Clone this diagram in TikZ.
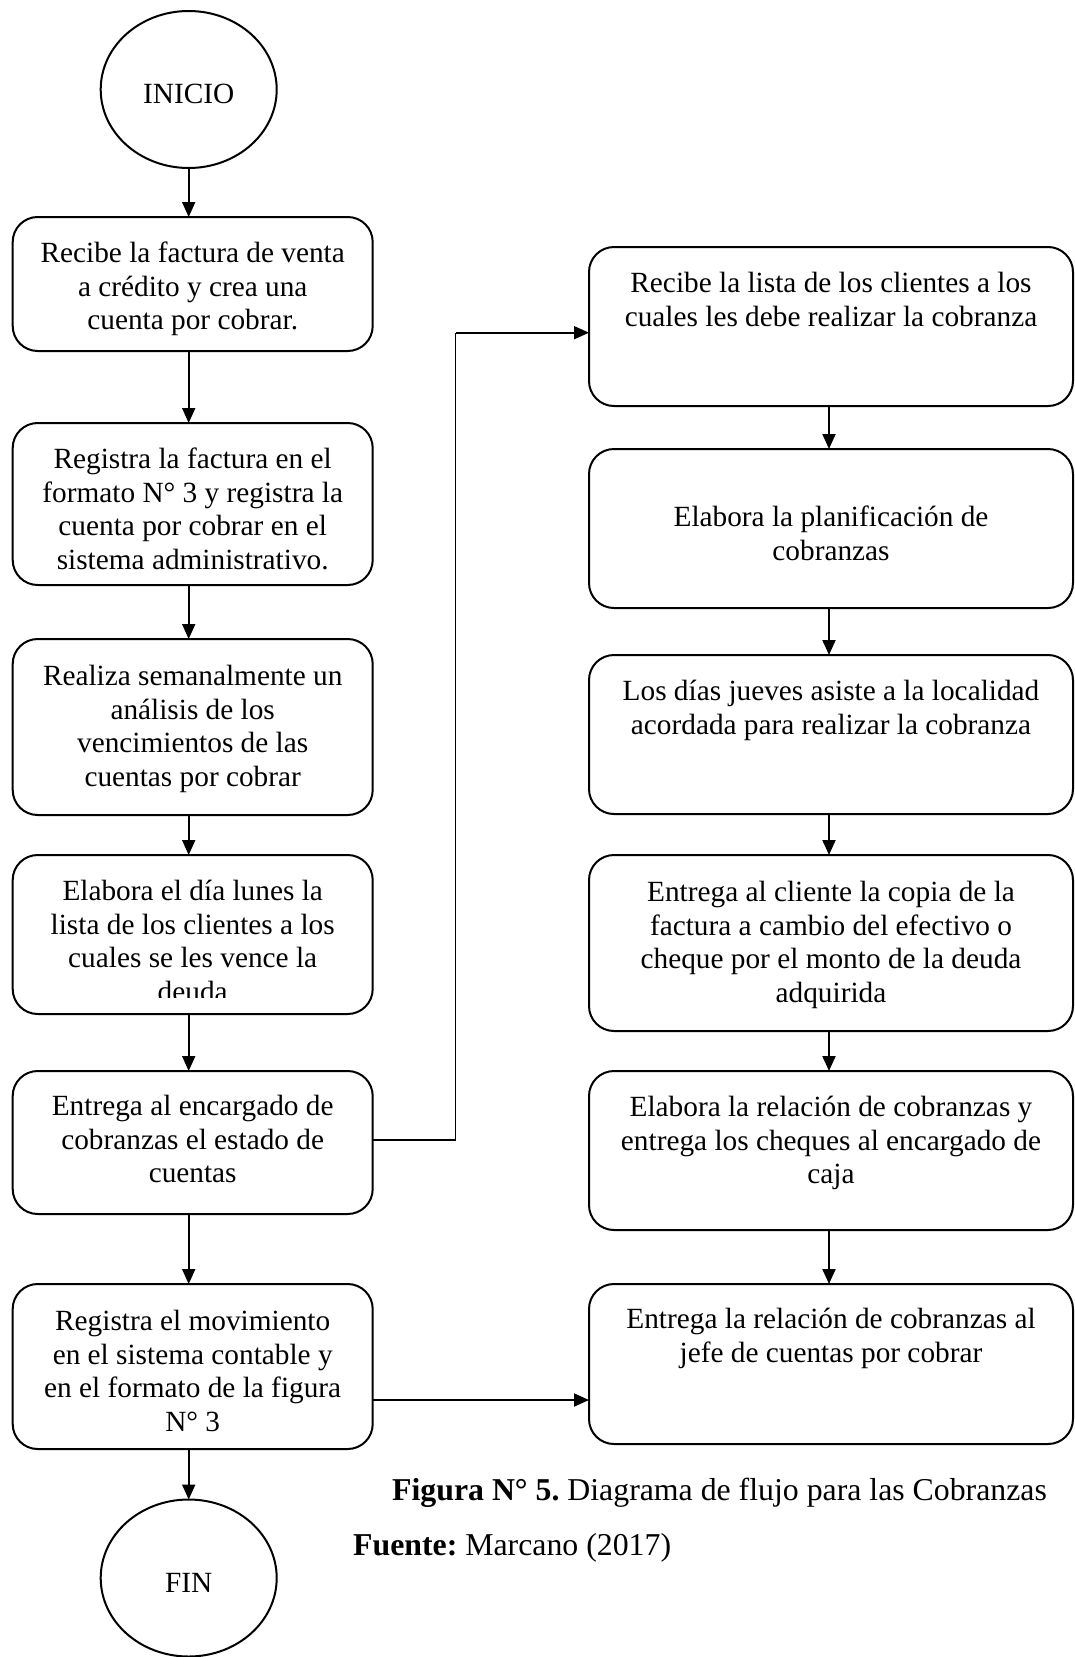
\documentclass[tikz,border=0pt]{standalone}
\usepackage{fontspec}
\setmainfont{Liberation Serif}
\usetikzlibrary{arrows.meta,shapes.geometric}
\frenchspacing
\begin{document}
\begin{tikzpicture}[x=1pt,y=-1pt,
  box/.style={draw, line width=2pt, rounded corners=25pt, inner sep=0pt, outer sep=0pt, anchor=north west},
  term/.style={draw, ellipse, line width=2pt, minimum width=176pt, minimum height=157pt, inner sep=0pt, outer sep=0pt, font=\fontsize{29.3}{33.8}\selectfont, text height=28.4pt, text depth=0pt},
  txt/.style={align=center, inner sep=0pt, anchor=north, font=\fontsize{29.3}{33.8}\selectfont},
  arr/.style={line width=2pt, -{Triangle[length=15pt,width=13pt]}},
  thinconn/.style={line width=1.6pt},
  captxt/.style={anchor=base west, inner sep=0pt, font=\fontsize{31.8}{38}\selectfont\frenchspacing}]
\useasboundingbox (0,0) rectangle (1074,1657);
\coordinate (lc) at (188.7,0);
\coordinate (rc) at (829,0);
% terminals
\node[term] (ini) at (188.7,89.5) {INICIO};
\node[term] (fin) at (188.7,1578) {FIN};
% left column boxes
\node[box, minimum width=360pt, minimum height=134pt] (b1) at (12.7,217) {};
\node[box, minimum width=360pt, minimum height=162pt] (b2) at (12.7,423) {};
\node[box, minimum width=360pt, minimum height=176pt] (b3) at (12.7,639) {};
\node[box, minimum width=360pt, minimum height=159pt] (b4) at (12.7,855) {};
\node[box, minimum width=360pt, minimum height=143pt] (b5) at (12.7,1071) {};
\node[box, minimum width=360pt, minimum height=165pt] (b12) at (12.7,1284) {};
% right column boxes
\node[box, minimum width=484pt, minimum height=159pt] (b6) at (589,247) {};
\node[box, minimum width=484pt, minimum height=159pt] (b7) at (589,449) {};
\node[box, minimum width=484pt, minimum height=159pt] (b8) at (589,655) {};
\node[box, minimum width=484pt, minimum height=176pt] (b9) at (589,855) {};
\node[box, minimum width=484pt, minimum height=159pt] (b10) at (589,1071) {};
\node[box, minimum width=484pt, minimum height=160pt] (b11) at (589,1284) {};
% texts (y = first baseline - strut height)
\node[txt] (t1) at (192.7,262-23.66) {\strut Recibe la factura de venta\\a crédito y crea una\\cuenta por cobrar.\strut};
\node[txt] (t2) at (192.7,468-23.66) {\strut Registra la factura en el\\formato N° 3 y registra la\\cuenta por cobrar en el\\sistema administrativo.\strut};
\node[txt] (t3) at (192.7,685-23.66) {\strut Realiza semanalmente un\\análisis de los\\vencimientos de las\\cuentas por cobrar\strut};
\begin{scope}
\clip (12.7,855) rectangle (372.7,997);
\node[txt] (t4) at (192.7,900-23.66) {\strut Elabora el día lunes la\\lista de los clientes a los\\cuales se les vence la\\deuda\strut};
\end{scope}
\node[txt] (t5) at (192.7,1115-23.66) {\strut Entrega al encargado de\\cobranzas el estado de\\cuentas\strut};
\node[txt] (t12) at (192.7,1330-23.66) {\strut Registra el movimiento\\en el sistema contable y\\en el formato de la figura\\N° 3\strut};
\node[txt] (t6) at (831,292-23.66) {\strut Recibe la lista de los clientes a los\\cuales les debe realizar la cobranza\strut};
\node[txt] (t7) at (831,526-23.66) {\strut Elabora la planificación de\\cobranzas\strut};
\node[txt] (t8) at (831,700-23.66) {\strut Los días jueves asiste a la localidad\\acordada para realizar la cobranza\strut};
\node[txt] (t9) at (831,901-23.66) {\strut Entrega al cliente la copia de la\\factura a cambio del efectivo o\\cheque por el monto de la deuda\\adquirida\strut};
\node[txt] (t10) at (831,1116-23.66) {\strut Elabora la relación de cobranzas y\\entrega los cheques al encargado de\\caja\strut};
\node[txt] (t11) at (831,1328-23.66) {\strut Entrega la relación de cobranzas al\\jefe de cuentas por cobrar\strut};
% captions
\node[captxt] (fig) at (392,1500) {\textbf{Figura N° 5.} Diagrama de flujo para las Cobranzas};
\node[captxt] (src) at (353,1555) {\textbf{Fuente:} Marcano (2017)};
% left column arrows
\draw[arr] (ini.south) -- (ini.south |- b1.north);
\draw[arr] (b1.south -| lc) -- (b2.north -| lc);
\draw[arr] (b2.south -| lc) -- (b3.north -| lc);
\draw[arr] (b3.south -| lc) -- (b4.north -| lc);
\draw[arr] (b4.south -| lc) -- (b5.north -| lc);
\draw[arr] (b5.south -| lc) -- (b12.north -| lc);
\draw[arr] (b12.south -| lc) -- (fin.north);
% right column arrows
\draw[arr] (b6.south -| rc) -- (b7.north -| rc);
\draw[arr] (b7.south -| rc) -- (b8.north -| rc);
\draw[arr] (b8.south -| rc) -- (b9.north -| rc);
\draw[arr] (b9.south -| rc) -- (b10.north -| rc);
\draw[arr] (b10.south -| rc) -- (b11.north -| rc);
% cross connectors
\coordinate (k0) at (372.7,1140);
\coordinate (k1) at (455.6,332.7);
\draw[thinconn] (k0) -| (k1);
\draw[arr, line width=1.6pt] (k1) -- (k1 -| b6.west);
\coordinate (k2) at (372.7,1400);
\draw[arr] (k2) -- (k2 -| b11.west);
\end{tikzpicture}
\end{document}
